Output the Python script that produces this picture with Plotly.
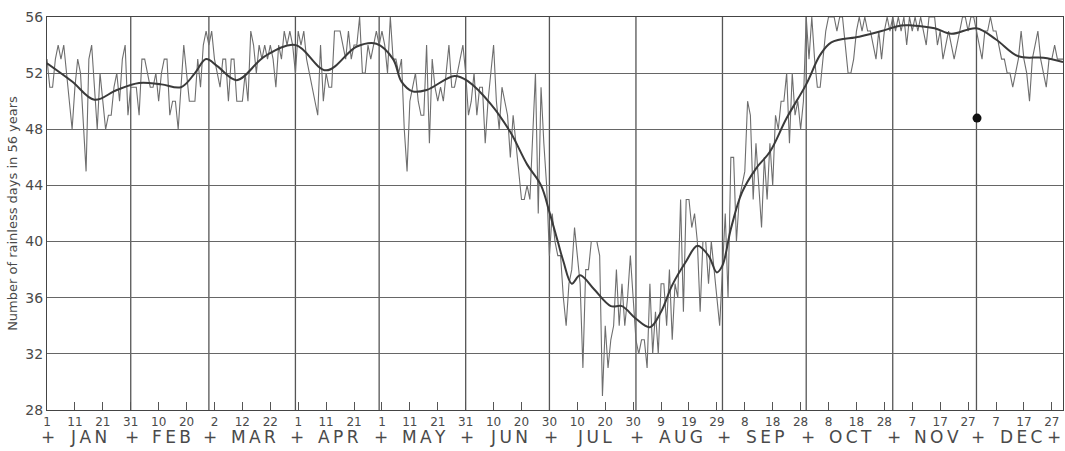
import plotly.graph_objects as go

# ---- daily number of rainless days (out of 56 years) ----
jan = [53,51,51,53,54,53,54,52,50,48, 51,53,52,48,45,53,54,51,48,52, 50,48,49,49,51,52,50,53,54,49, 51]
feb = [51,51,49,53,53,52,51,51,52,50, 52,53,53,49,50,50,48,51,54,52, 50,50,50,53,51,54,55,54]
mar = [55,53,52,51,53,53,50,53,53,50, 50,50,52,50,55,54,52,54,53,54, 53,54,53,51,54,53,55,54,55,54, 52]
apr = [55,54,55,53,52,51,50,49,54,50, 52,51,51,55,55,55,54,53,55,53, 54,54,56,52,52,54,53,54,55,54]
may = [55,54,52,56,53,53,52,53,48,45, 50,51,52,50,49,49,54,47,53,51, 50,51,50,52,54,51,51,52,53,54, 52]
jun = [49,50,52,49,51,51,47,50,52,54, 50,48,51,50,49,46,49,47,45,43, 43,44,43,47,52,42,51,47,44,39]
jul = [42,40,39,39,36,34,37,38,41,39, 37,31,38,38,40,40,40,39,29,34, 31,33,34,38,34,37,34,36,39,36, 33]
aug = [32,33,33,31,37,32,35,32,37,37, 34,38,33,37,36,43,35,43,43,41, 42,40,35,40,40,37,40,38,36,34, 38]
sep = [42,36,46,46,40,43,44,45,50,49, 43,47,44,41,46,43,47,44,49,48, 50,50,52,47,52,49,50,48,50,56]
oct_ = [53,56,53,51,51,53,55,56,56,56, 55,56,56,54,52,52,53,55,56,55, 56,55,55,54,53,55,53,55,56,55, 56]
nov = [55,56,55,56,54,56,55,56,55,56, 55,54,56,56,56,54,55,53,54,55, 54,53,54,55,56,56,55,56,56,55]
dec = [54,53,55,55,56,55,55,54,53,53, 52,52,51,52,53,55,53,52,50,53, 54,55,53,52,51,53,53,54,53,53, 53]

# ---- smoothed curve (read at selected days) ----
smooth_days = [1,10,18,26,34,42,49,54,58,62, 69,79,90,101,112,119,125,128,132,137,
               147,152,160,167,173,178,181,184,186,189, 192,197,203,207,212,217,221,225,230,234,
               238,241,243,246,250,255,260,266,273,278, 282,292,300,307,311,319,325,334,341,349,
               358,365]
smooth_vals = [52.7,51.4,50.1,50.8,51.3,51.2,51.0,52.0,53.0,52.5, 51.5,53.2,54.0,52.2,53.9,54.1,53.0,51.4,50.7,50.8,
               51.8,51.4,49.8,47.8,45.5,44.0,42.1,40.0,38.6,37.0, 37.6,36.6,35.4,35.4,34.5,33.9,35.0,36.9,38.6,39.7,
               39.0,37.8,38.3,40.9,43.5,45.2,46.4,48.8,51.2,53.3, 54.2,54.6,55.0,55.4,55.4,55.2,54.8,55.2,54.4,53.2,
               53.1,52.8]

# ink blot visible on the scan
blot_day = [334.2]
blot_val = [48.8]

month_names = ["JAN","FEB","MAR","APR","MAY","JUN","JUL","AUG","SEP","OCT","NOV","DEC"]
month_lengths = [31,28,31,30,31,30,31,31,30,31,30,31]

tick_days = [1,11,21,31,41,51,61,71,81,91,101,111,121,131,141,151,161,171,181,191,201,211,
             221,231,241,251,261,271,281,291,301,311,321,331,341,351,361]
tick_text = ["1","11","21","31","10","20","2","12","22","1","11","21","1","11","21","31","10","20",
             "30","10","20","30","9","19","29","8","18","28","8","18","28","7","17","27","7","17","27"]

y_ticks = [28,32,36,40,44,48,52,56]

daily = jan + feb + mar + apr + may + jun + jul + aug + sep + oct_ + nov + dec
days = list(range(1, len(daily) + 1))

FONT = "DejaVu Sans"
INK = "#4a4a4a"

fig = go.Figure()
fig.add_trace(go.Scatter(x=days, y=daily, mode="lines",
                         line=dict(color="#6e6e6e", width=1.1), hoverinfo="skip"))
fig.add_trace(go.Scatter(x=smooth_days, y=smooth_vals, mode="lines", hoverinfo="skip",
                         line=dict(color="#3a3a3a", width=2, shape="spline", smoothing=1.0)))
fig.add_trace(go.Scatter(x=blot_day, y=blot_val, mode="markers", hoverinfo="skip",
                         marker=dict(color="#111", size=9)))

# month boundary lines and labels
shapes = []
annotations = []
ROW_Y = -0.068
cum = 0
for i, (name, ln) in enumerate(zip(month_names, month_lengths)):
    start = cum
    cum += ln
    if cum < 365:
        shapes.append(dict(type="line", xref="x", yref="paper", x0=cum, x1=cum, y0=0, y1=1,
                           line=dict(color="#555", width=1.3), layer="below"))
    annotations.append(dict(x=start + ln / 2 + 0.5, y=ROW_Y, xref="x", yref="paper",
                            text="\u2009".join(name), showarrow=False,
                            font=dict(family=FONT, size=17, color=INK),
                            xanchor="center", yanchor="middle"))
    annotations.append(dict(x=start + 0.5 if i > 0 else 1.5, y=ROW_Y, xref="x", yref="paper",
                            text="+", showarrow=False,
                            font=dict(family=FONT, size=17, color=INK),
                            xanchor="center", yanchor="middle"))
annotations.append(dict(x=365, y=ROW_Y, xref="x", yref="paper", text="+", showarrow=False,
                        font=dict(family=FONT, size=17, color=INK), xanchor="right", yanchor="middle"))

fig.update_layout(
    width=1065, height=451,
    margin=dict(l=47, r=2, t=17, b=41),
    paper_bgcolor="white", plot_bgcolor="white",
    showlegend=False,
    shapes=shapes, annotations=annotations,
    xaxis=dict(range=[1, 365], tickmode="array", tickvals=tick_days, ticktext=tick_text,
               ticks="inside", ticklen=8, tickcolor="#555", tickwidth=1,
               showgrid=False, zeroline=False, showline=True, linecolor="#444", linewidth=1.3,
               mirror=True, tickfont=dict(family=FONT, size=12, color=INK)),
    yaxis=dict(range=[28, 56], tickmode="array", tickvals=y_ticks, ticks="",
               showgrid=True, gridcolor="#666", gridwidth=1, zeroline=False,
               showline=True, linecolor="#444", linewidth=1.3, mirror=True,
               tickfont=dict(family=FONT, size=14, color=INK),
               title=dict(text="Number of rainless days in 56 years",
                          font=dict(family=FONT, size=13, color=INK), standoff=4)),
)

fig.write_html("out.html", config={"displayModeBar": False},
               post_script="document.body.style.margin='0';")
